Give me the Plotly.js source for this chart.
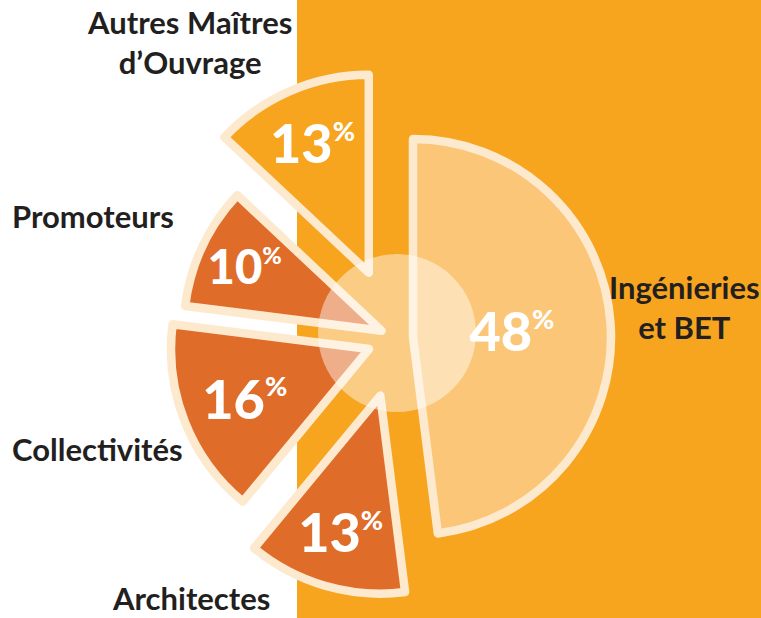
<!DOCTYPE html>
<html>
<head>
<meta charset="utf-8">
<script src="https://cdn.plot.ly/plotly-3.0.1.min.js"></script>
<style>html,body{margin:0;padding:0;background:#fff;}#chart{width:761px;height:618px;}</style>
</head>
<body>
<div id="chart"></div>
<script>
// ---- data ----
const categories = ['Ingénieries<br>et BET', 'Architectes', 'Collectivités', 'Promoteurs', 'Autres Maîtres<br>d’Ouvrage'];
const shares = [48, 13, 16, 10, 13];
const sliceColors = ['#FBC677', '#E06C29', '#E06C29', '#E06C29', '#F7A51F'];
const slicePull = [0.081, 0.303, 0.152, 0.086, 0.359];

// ---- layout helpers (pixels -> paper) ----
const W = 761, H = 618;
const px = x => x / W;
const py = y => 1 - y / H;

const cx = 397, cy = 338, r = 198;
const maxPull = Math.max.apply(null, slicePull);
const half = r * (1 + maxPull);

const trace = {
  type: 'pie',
  labels: categories,
  values: shares,
  sort: false,
  direction: 'clockwise',
  rotation: 0,
  pull: slicePull,
  marker: { colors: sliceColors, line: { color: '#FDE9CD', width: 8.5 } },
  texttemplate: '%{value}<sup><span style="font-size:27px">%</span></sup>',
  textposition: 'inside',
  insidetextorientation: 'horizontal',
  textfont: { family: 'Lato, "Open Sans", sans-serif', size: 54, color: '#FFFFFF', weight: 900 },
  hoverinfo: 'none',
  showlegend: false,
  domain: { x: [px(cx - half), px(cx + half)], y: [py(cy + half), py(cy - half)] }
};

const labelPos = [
  { x: 684, y: 307 },
  { x: 191, y: 598 },
  { x: 97, y: 449 },
  { x: 93, y: 216 },
  { x: 189, y: 42 }
];

const annotations = categories.map((c, i) => ({
  text: c,
  xref: 'paper', yref: 'paper',
  x: px(labelPos[i].x), y: py(labelPos[i].y),
  xanchor: 'center', yanchor: 'middle',
  showarrow: false,
  align: 'center',
  font: { family: 'Lato, "Open Sans", sans-serif', size: 31, color: '#231F20', weight: 'bold' }
}));

const layout = {
  width: W, height: H,
  margin: { l: 0, r: 0, t: 0, b: 0 },
  paper_bgcolor: '#FFFFFF',
  plot_bgcolor: '#FFFFFF',
  showlegend: false,
  shapes: [
    { type: 'rect', xref: 'paper', yref: 'paper', x0: px(297), x1: 1, y0: 0, y1: 1,
      fillcolor: '#F7A51F', line: { width: 0 }, layer: 'below' },
    { type: 'circle', xref: 'paper', yref: 'paper',
      x0: px(397 - 79), x1: px(397 + 79), y0: py(333 + 79), y1: py(333 - 79),
      fillcolor: 'rgba(255,255,255,0.45)', line: { width: 0 }, layer: 'above' }
  ],
  annotations: annotations
};

Plotly.newPlot('chart', [trace], layout, { displayModeBar: false, staticPlot: true });
</script>
</body>
</html>
